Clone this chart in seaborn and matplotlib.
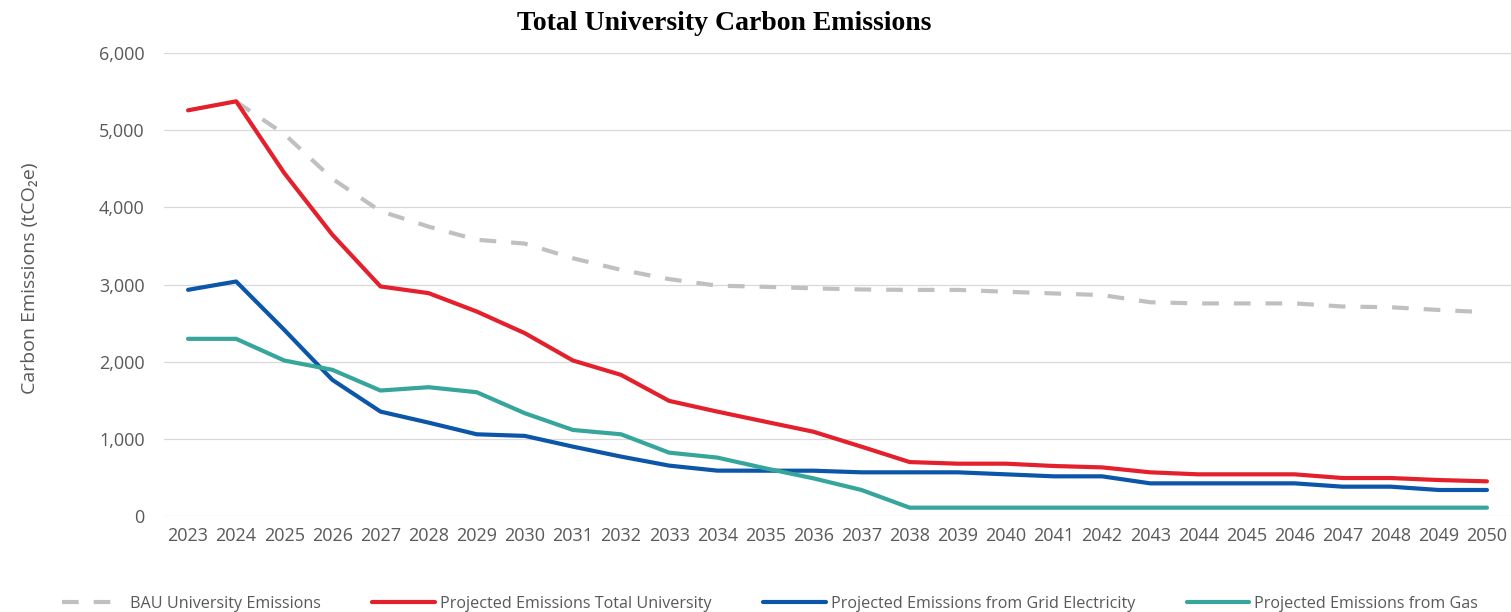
import matplotlib
matplotlib.use("Agg")
import matplotlib.pyplot as plt
import seaborn as sns
import pandas as pd
import numpy as np

years = list(range(2023, 2051))

bau = [np.nan, 5370, 4950, 4370, 3950, 3750, 3580, 3530, 3340, 3190, 3070, 2985,
       2970, 2950, 2936, 2930, 2930, 2906, 2884, 2863, 2770, 2755, 2755, 2755,
       2715, 2705, 2670, 2640]
total = [5257, 5374, 4444, 3645, 2975, 2888, 2650, 2369, 2015, 1829, 1492, 1353,
         1222, 1092, 898, 699, 678, 678, 648, 630, 566, 540, 540, 540,
         492, 492, 466, 449]
grid = [2931, 3039, 2412, 1764, 1353, 1210, 1059, 1038, 899, 770, 653, 588,
        587, 587, 566, 566, 566, 540, 514, 514, 423, 423, 423, 423,
        380, 380, 337, 337]
gas = [2296, 2296, 2015, 1894, 1626, 1669, 1604, 1332, 1115, 1059, 821, 757,
       618, 488, 337, 108, 108, 108, 108, 108, 108, 108, 108, 108,
       108, 108, 108, 108]

series_names = ["BAU University Emissions",
                "Projected Emissions Total University",
                "Projected Emissions from Grid Electricity",
                "Projected Emissions from Gas"]
colors = ["#c0c0c0", "#e3202b", "#0b56a8", "#36a59b"]

df = pd.concat([
    pd.DataFrame({"Year": years, "Emissions": vals, "Series": name})
    for name, vals in zip(series_names, [bau, total, grid, gas])
], ignore_index=True).dropna()

sns.set_theme(style="white")
plt.rcParams["font.family"] = ["Open Sans", "DejaVu Sans"]

fig = plt.figure(figsize=(15.11, 6.12), dpi=100)
ax = fig.add_axes([164/1511, 1-516/612, 1-164/1511, (516-53)/612])

sns.lineplot(data=df, x="Year", y="Emissions", hue="Series", style="Series",
             hue_order=series_names, style_order=series_names,
             palette=dict(zip(series_names, colors)),
             dashes={series_names[0]: (4.0, 3.6), series_names[1]: "",
                     series_names[2]: "", series_names[3]: ""},
             linewidth=3.0, ax=ax, legend=True)

ax.set_xlim(2022.5, 2050.5)
ax.set_ylim(0, 6000)
ax.set_xticks(years)
ax.set_xticklabels([str(y) for y in years])
ax.set_yticks(range(0, 6001, 1000))
ax.set_yticklabels([f"{v:,}" for v in range(0, 6001, 1000)])
ax.grid(axis="y", color="#d9d9d9", linewidth=0.9)
ax.set_axisbelow(True)
for s in ax.spines.values():
    s.set_visible(False)
ax.tick_params(axis="both", length=0, labelsize=13, colors="#595959")
ax.tick_params(axis="y", pad=14)
ax.tick_params(axis="x", pad=8)
ax.set_xlabel("")
ax.set_ylabel("")
fig.text(30/1511, 1-278/612, "Carbon Emissions (tCO₂e)", rotation=90, ha="center",
         va="center", fontsize=14, color="#595959")

fig.suptitle("Total University Carbon Emissions", x=724/1511, y=1-23/612, va="center",
             fontsize=20, fontweight="bold", family="Liberation Serif", color="black")

handles, labels = ax.get_legend_handles_labels()
ax.get_legend().remove()
leg = fig.legend(handles, labels, loc="center", bbox_to_anchor=(770/1511, 1-604/612),
                 ncol=4, frameon=False, fontsize=11.6, handlelength=3.9,
                 handletextpad=0.3, columnspacing=3.2, labelcolor="#595959")

fig.savefig("out.png", dpi=100)
